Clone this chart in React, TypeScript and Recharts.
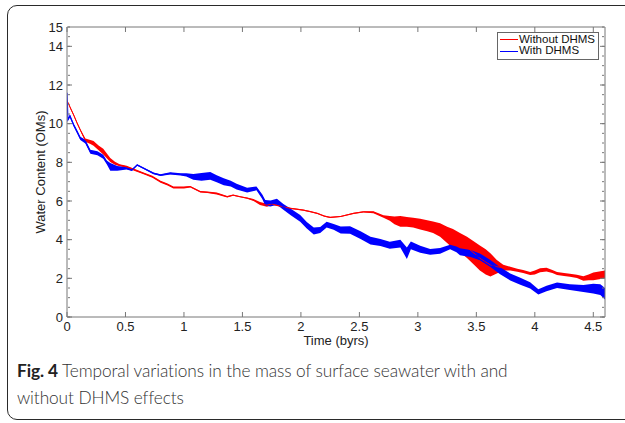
import React from 'react';
import { ComposedChart, Line, Area, XAxis, YAxis, Legend } from 'recharts';

const redTime = [0, 0.03, 0.057, 0.085, 0.114, 0.157, 0.2, 0.227, 0.27, 0.31, 0.37, 0.41, 0.45, 0.51, 0.58, 0.655, 0.73, 0.8, 0.86, 0.91, 1.0, 1.054, 1.14, 1.2, 1.28, 1.37, 1.42, 1.48, 1.54, 1.595, 1.65, 1.71, 1.75, 1.795, 1.85, 1.91, 1.96, 2.02, 2.08, 2.14, 2.2, 2.25, 2.34, 2.45, 2.535, 2.62, 2.706, 2.76, 2.8, 2.85, 2.906, 2.96, 3.02, 3.08, 3.13, 3.19, 3.25, 3.3, 3.36, 3.42, 3.48, 3.53, 3.58, 3.62, 3.675, 3.73, 3.79, 3.85, 3.9, 3.96, 4.0, 4.045, 4.1, 4.15, 4.19, 4.25, 4.3, 4.36, 4.415, 4.46, 4.5, 4.55, 4.6];
const redValue = [11.2, 10.8, 10.45, 10.05, 9.67, 9.15, 9.05, 8.98, 8.75, 8.55, 8.12, 7.95, 7.85, 7.77, 7.6, 7.43, 7.25, 7.0, 6.85, 6.7, 6.7, 6.74, 6.48, 6.45, 6.39, 6.22, 6.3, 6.22, 6.15, 6.05, 5.87, 5.78, 5.85, 5.78, 5.7, 5.62, 5.58, 5.53, 5.45, 5.36, 5.22, 5.15, 5.2, 5.36, 5.44, 5.42, 5.2, 5.1, 5.0, 4.95, 4.92, 4.88, 4.8, 4.72, 4.64, 4.5, 4.25, 4.05, 3.85, 3.6, 3.3, 3.05, 2.85, 2.7, 2.6, 2.55, 2.5, 2.42, 2.35, 2.25, 2.3, 2.42, 2.45, 2.35, 2.25, 2.2, 2.16, 2.1, 1.99, 2.05, 2.1, 2.15, 2.2];
const redSpread = [0, 0.05, 0.05, 0.05, 0.05, 0.08, 0.1, 0.12, 0.12, 0.15, 0.1, 0.08, 0.05, 0.05, 0.05, 0.05, 0.05, 0.05, 0.05, 0.05, 0.05, 0.04, 0.04, 0.04, 0.05, 0.04, 0.03, 0.03, 0.03, 0.05, 0.08, 0.08, 0.05, 0.04, 0.03, 0.03, 0.03, 0.03, 0.03, 0.03, 0.03, 0.03, 0.03, 0.03, 0.03, 0.05, 0.06, 0.12, 0.2, 0.28, 0.25, 0.25, 0.28, 0.28, 0.3, 0.35, 0.42, 0.5, 0.5, 0.55, 0.6, 0.65, 0.65, 0.6, 0.35, 0.15, 0.1, 0.08, 0.08, 0.08, 0.1, 0.1, 0.1, 0.08, 0.08, 0.08, 0.08, 0.08, 0.12, 0.15, 0.2, 0.2, 0.2];

const blueTime = [0, 0.008, 0.025, 0.057, 0.085, 0.114, 0.157, 0.2, 0.26, 0.31, 0.34, 0.37, 0.43, 0.51, 0.555, 0.6, 0.655, 0.74, 0.8, 0.883, 0.97, 1.02, 1.08, 1.15, 1.225, 1.28, 1.34, 1.4, 1.45, 1.54, 1.62, 1.67, 1.695, 1.74, 1.795, 1.85, 1.91, 1.994, 2.05, 2.11, 2.165, 2.22, 2.28, 2.34, 2.42, 2.51, 2.595, 2.68, 2.76, 2.85, 2.906, 2.94, 3.02, 3.105, 3.19, 3.276, 3.33, 3.36, 3.45, 3.53, 3.62, 3.7, 3.79, 3.876, 3.96, 4.03, 4.1, 4.19, 4.3, 4.415, 4.5, 4.56, 4.6];
const blueValue = [11.6, 10.2, 10.4, 9.93, 9.6, 9.24, 9.07, 8.55, 8.47, 8.29, 8.0, 7.77, 7.69, 7.69, 7.6, 7.86, 7.69, 7.43, 7.34, 7.43, 7.38, 7.35, 7.25, 7.25, 7.3, 7.15, 7.0, 6.9, 6.74, 6.56, 6.65, 6.22, 5.9, 5.87, 5.96, 5.7, 5.44, 5.1, 4.75, 4.45, 4.5, 4.78, 4.66, 4.5, 4.5, 4.23, 3.95, 3.85, 3.71, 3.8, 3.3, 3.7, 3.5, 3.37, 3.42, 3.62, 3.5, 3.37, 3.28, 3.11, 2.77, 2.4, 2.07, 1.85, 1.64, 1.3, 1.47, 1.64, 1.55, 1.47, 1.47, 1.42, 1.2];
const blueSpread = [0, 0.05, 0.08, 0.08, 0.08, 0.08, 0.1, 0.1, 0.1, 0.1, 0.1, 0.2, 0.12, 0.06, 0.05, 0.04, 0.04, 0.04, 0.05, 0.06, 0.06, 0.08, 0.15, 0.2, 0.2, 0.18, 0.18, 0.15, 0.15, 0.12, 0.1, 0.12, 0.15, 0.15, 0.15, 0.15, 0.17, 0.17, 0.17, 0.18, 0.15, 0.15, 0.15, 0.18, 0.2, 0.2, 0.2, 0.18, 0.18, 0.2, 0.3, 0.2, 0.18, 0.15, 0.15, 0.12, 0.15, 0.18, 0.18, 0.18, 0.18, 0.18, 0.18, 0.18, 0.16, 0.14, 0.14, 0.14, 0.15, 0.18, 0.25, 0.28, 0.3];

const xTicks = [0, 0.5, 1, 1.5, 2, 2.5, 3, 3.5, 4, 4.5];
const yLabelTicks = [0, 2, 4, 6, 8, 10, 12, 14, 15];
const yMajorTicks = [0, 2, 4, 6, 8, 10, 12, 14];
const yMinorTicks = [0, 0.5, 1, 1.5, 2, 2.5, 3, 3.5, 4, 4.5, 5, 5.5, 6, 6.5, 7, 7.5, 8, 8.5, 9, 9.5, 10, 10.5, 11, 11.5, 12, 12.5, 13, 13.5, 14, 14.5, 15];

const seriesNames = ['Without DHMS', 'With DHMS'];
const RED = '#ff0000';
const BLUE = '#0000ff';
const seriesColors = [RED, BLUE];

const build = (ts: number[], vs: number[], ss: number[]) =>
  ts.map((t, i) => ({ t, v: vs[i], band: [vs[i] - ss[i], vs[i] + ss[i]] }));

const redData = build(redTime, redValue, redSpread);
const blueData = build(blueTime, blueValue, blueSpread);

const AX = '#777777';
const FONT = '"Liberation Sans", Arial, Helvetica, sans-serif';
const blank = () => '';

const LegendBox = () => (
  <div style={{ border: '1px solid #666', background: '#fff', padding: '1px 3px 2px 2px', fontFamily: FONT, fontSize: 11.5, lineHeight: '11.4px', color: '#111' }}>
    {seriesNames.map((n, i) => (
      <div key={n} style={{ display: 'flex', alignItems: 'center', whiteSpace: 'nowrap' }}>
        <span style={{ display: 'inline-block', width: 18, height: 1, background: seriesColors[i], marginRight: 1 }} />
        <span>{n}</span>
      </div>
    ))}
  </div>
);

const hiddenLine = (xId: string, yId: string) => (
  <Line key={xId + yId} xAxisId={xId} yAxisId={yId} data={redData} dataKey="v" stroke="none" legendType="none"
    dot={false} activeDot={false} isAnimationActive={false} />
);

export default function App() {
  return (
    <div style={{ position: 'absolute', left: 0, top: 0, width: 625, height: 423, overflow: 'hidden', background: '#fff' }}>
      <div style={{ position: 'absolute', left: 7, top: 5, width: 640, height: 413, border: '1.5px solid #2a2a2a', borderRadius: 10 }} />
      <div style={{ position: 'absolute', left: 0, top: 0 }}>
        <ComposedChart width={625} height={350} margin={{ top: 27, right: 20, bottom: 3, left: 17 }}>
          <XAxis xAxisId="x" dataKey="t" type="number" domain={[0, 4.6]} ticks={xTicks} allowDataOverflow interval={0}
            tickLine={false} tickSize={0} tickMargin={5} axisLine={{ stroke: AX }} height={30}
            tick={{ fontSize: 13, fill: '#222', fontFamily: FONT }}
            label={{ value: 'Time (byrs)', position: 'insideBottom', offset: 2, style: { fontSize: 13, fill: '#222', fontFamily: FONT } }} />
          <XAxis xAxisId="xb" dataKey="t" type="number" domain={[0, 4.6]} ticks={xTicks} orientation="bottom" mirror height={1} interval={0}
            tickFormatter={blank} tickSize={5} tickLine={{ stroke: AX }} axisLine={false} allowDataOverflow />
          <XAxis xAxisId="xt" dataKey="t" type="number" domain={[0, 4.6]} ticks={xTicks} orientation="top" mirror height={1} interval={0}
            tickFormatter={blank} tickSize={5} tickLine={{ stroke: AX }} axisLine={{ stroke: AX }} allowDataOverflow />
          <YAxis yAxisId="y" type="number" domain={[0, 15]} ticks={yLabelTicks} allowDataOverflow interval={0}
            tickLine={false} tickSize={0} tickMargin={4} axisLine={{ stroke: AX }} width={50}
            tick={{ fontSize: 13, fill: '#222', fontFamily: FONT }}
            label={{ value: 'Water Content (OMs)', angle: -90, position: 'insideLeft', offset: 23, style: { textAnchor: 'middle', fontSize: 13, fill: '#222', fontFamily: FONT } }} />
          <YAxis yAxisId="ymaj" type="number" domain={[0, 15]} ticks={yMajorTicks} orientation="left" mirror width={1} interval={0}
            tickFormatter={blank} tickSize={5} tickLine={{ stroke: AX }} axisLine={false} allowDataOverflow />
          <YAxis yAxisId="ymin" type="number" domain={[0, 15]} ticks={yMinorTicks} orientation="left" mirror width={1} interval={0}
            tickFormatter={blank} tickSize={2} tickLine={{ stroke: AX }} axisLine={false} allowDataOverflow />
          <YAxis yAxisId="rmaj" type="number" domain={[0, 15]} ticks={yMajorTicks} orientation="right" mirror width={1} interval={0}
            tickFormatter={blank} tickSize={5} tickLine={{ stroke: AX }} axisLine={{ stroke: AX }} allowDataOverflow />
          <YAxis yAxisId="rmin" type="number" domain={[0, 15]} ticks={yMinorTicks} orientation="right" mirror width={1} interval={0}
            tickFormatter={blank} tickSize={2} tickLine={{ stroke: AX }} axisLine={false} allowDataOverflow />

          {hiddenLine('xb', 'ymaj')}
          {hiddenLine('xt', 'ymin')}
          {hiddenLine('xt', 'rmaj')}
          {hiddenLine('xb', 'rmin')}

          <Area xAxisId="x" yAxisId="y" data={redData} dataKey="band" type="linear" stroke="none"
            fill={RED} fillOpacity={1} legendType="none" isAnimationActive={false} dot={false} activeDot={false} />
          <Line xAxisId="x" yAxisId="y" data={redData} dataKey="v" name={seriesNames[0]} type="linear" stroke={RED}
            strokeWidth={1} dot={false} activeDot={false} isAnimationActive={false} />
          <Area xAxisId="x" yAxisId="y" data={blueData} dataKey="band" type="linear" stroke="none"
            fill={BLUE} fillOpacity={1} legendType="none" isAnimationActive={false} dot={false} activeDot={false} />
          <Line xAxisId="x" yAxisId="y" data={blueData} dataKey="v" name={seriesNames[1]} type="linear" stroke={BLUE}
            strokeWidth={1.2} dot={false} activeDot={false} isAnimationActive={false} />

          <Legend layout="horizontal" verticalAlign="middle" align="center" content={LegendBox}
            wrapperStyle={{ position: 'absolute', left: 497, top: 32, width: 'auto', height: 'auto' }} />
        </ComposedChart>
      </div>
      <div style={{ position: 'absolute', left: 17, top: 357, width: 600, fontFamily: 'Lato, "Open Sans", sans-serif', fontWeight: 300, fontSize: 17.3, letterSpacing: '-0.1px', lineHeight: '27px', color: '#333' }}>
        <span style={{ fontWeight: 700, color: '#222' }}>Fig. 4</span> Temporal variations in the mass of surface seawater with and<br />without DHMS effects
      </div>
    </div>
  );
}
